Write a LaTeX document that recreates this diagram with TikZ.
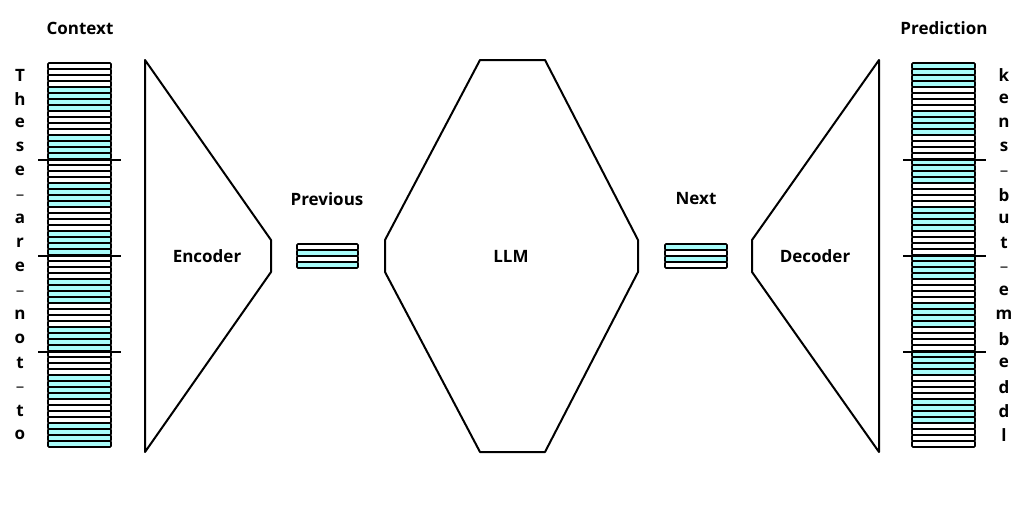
\documentclass[tikz,border=0pt]{standalone}
\usepackage{fontspec}
\setmainfont{Open Sans}
\usetikzlibrary{positioning}
\definecolor{tokCyan}{RGB}{168,252,250}
\tikzset{
    base/.style={font=\bfseries\fontsize{17}{19}\selectfont, inner sep=0pt},
    title/.style={base},
    letter/.style={base},
    stripe/.style={draw=black, line width=1.6pt, rounded corners=1pt},
    block/.style={draw=black, line width=2pt, line join=round},
    divider/.style={draw=black, line width=1.4pt}
}

\begin{document}
\begin{tikzpicture}[x=1pt, y=-1pt]
  \useasboundingbox (0,0) rectangle (1024,512);

  % Context tokens
  \foreach \i in {0,...,63}{
    \pgfmathtruncatemacro\band{\i/4}
    \ifodd\band \def\fc{tokCyan}\else\def\fc{white}\fi
    \draw[stripe, fill=\fc] (48,{63+6*\i}) rectangle ++(63,6);
  }
  \foreach \yy in {160,256,352}
    \draw[divider] (38,\yy) -- (121,\yy);
  \foreach \ch [count=\n from 0] in {T,h,e,s,e,\_,a,r,e,\_,n,o,t,\_,t,o}
    \node[letter] (ctx\n) at (20,{75+24*\n}) {\ch};
  \node[title] (context) at (80,28) {Context};

  % Prediction tokens
  \foreach \i in {0,...,63}{
    \pgfmathtruncatemacro\band{\i/4}
    \ifodd\band \def\fc{white}\else\def\fc{tokCyan}\fi
    \draw[stripe, fill=\fc] (912,{63+6*\i}) rectangle ++(63,6);
  }
  \foreach \yy in {160,256,352}
    \draw[divider] (903,\yy) -- (986,\yy);
  \foreach \ch [count=\n from 0] in {k,e,n,s,\_,b,u,t,\_,e,m,b,e,d,d,l}
    \node[letter] (pred\n) at (1004,{75+24*\n}) {\ch};
  \node[title] (prediction) at (944,28) {Prediction};

  % Encoder, LLM, Decoder
  \draw[block] (145,60) -- (271,240) -- (271,272) -- (145,452) -- cycle;
  \node[title] (encoder) at (207,256) {Encoder};

  \draw[block] (480,60) -- (545,60) -- (638,240) -- (638,272)
    -- (545,452) -- (480,452) -- (385,272) -- (385,240) -- cycle;
  \node[title] (llm) at (511,256) {LLM};

  \draw[block] (879,60) -- (752,240) -- (752,272) -- (879,452) -- cycle;
  \node[title] (decoder) at (815,256) {Decoder};

  % Latent vectors
  \foreach \i in {0,...,3}{
    \ifodd\i \def\fc{tokCyan}\else\def\fc{white}\fi
    \draw[stripe, fill=\fc] (297,{244+6*\i}) rectangle ++(61,6);
  }
  \node[title] (previous) at (327,199) {Previous};

  \foreach \i in {0,...,3}{
    \ifodd\i \def\fc{white}\else\def\fc{tokCyan}\fi
    \draw[stripe, fill=\fc] (665,{244+6*\i}) rectangle ++(62,6);
  }
  \node[title] (next) at (696,199) {Next};
\end{tikzpicture}
\end{document}
